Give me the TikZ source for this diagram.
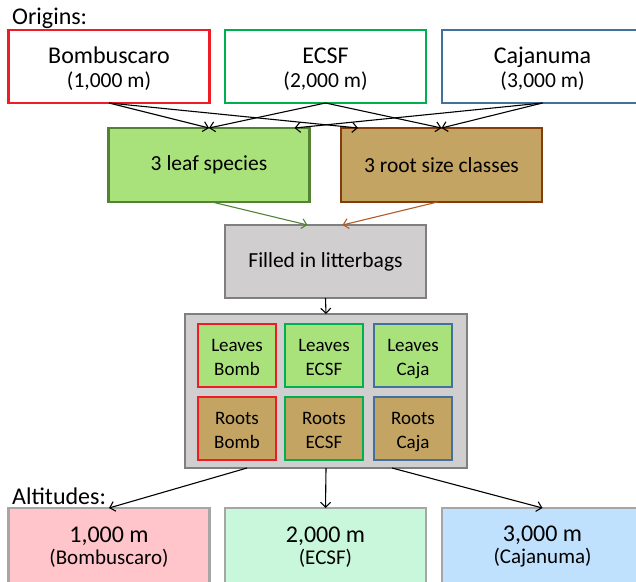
\documentclass[tikz,border=0pt]{standalone}
\usepackage{fontspec}
\setmainfont{Carlito}
\usetikzlibrary{arrows.meta}
\definecolor{cRed}{HTML}{EE1C24}
\definecolor{cGreen}{HTML}{00B050}
\definecolor{cBlue}{HTML}{41719C}
\definecolor{leafFill}{HTML}{A9E17A}
\definecolor{leafLine}{HTML}{548235}
\definecolor{rootFill}{HTML}{C4A462}
\definecolor{rootLine}{HTML}{843C0C}
\definecolor{rootArrow}{HTML}{B05A28}
\definecolor{grayFill}{HTML}{D0CECE}
\definecolor{grayLine}{HTML}{7F7F7F}
\definecolor{altLine}{HTML}{A6A6A6}
\definecolor{altPink}{HTML}{FFC5CB}
\definecolor{altMint}{HTML}{C9F7DC}
\definecolor{altBlue}{HTML}{BFE1FD}
\newcommand{\topstrut}[1]{\rule{0pt}{#1}}
\newcommand{\botstrut}{\rule[-5pt]{0pt}{5pt}}
\begin{document}
\begin{tikzpicture}[x=1pt,y=-1pt,
  box/.style={draw, rectangle, inner sep=0pt, outer sep=0pt, align=center, line width=2.5pt},
  origin/.style={box, fill=white, minimum width=201pt, minimum height=73pt,
    font=\fontsize{24}{24.5}\selectfont},
  mid/.style={box, minimum width=201pt, minimum height=74pt,
    font=\fontsize{21.5}{24}\selectfont},
  inner/.style={box, line width=2.8pt, minimum width=78pt, minimum height=63pt,
    font=\fontsize{19}{23.3}\selectfont},
  alt/.style={box, draw=altLine, line width=2.5pt, minimum width=201pt, minimum height=78pt,
    font=\fontsize{24}{22}\selectfont},
  title/.style={anchor=base west, inner sep=0pt, font=\fontsize{24}{24}\selectfont},
  arr/.style={-{Straight Barb[length=5pt,width=10pt]}, line width=1.1pt, draw=black}
]
\useasboundingbox (0,0) rectangle (636,581);

\node[title] (torig) at (12,24) {Origins:};
\node[origin, draw=cRed]   (bomb) at (109,66.5)   {\topstrut{21pt}Bombuscaro\\{\fontsize{21.5}{24.5}\selectfont (1,000 m)}};
\node[origin, draw=cGreen] (ecsf) at (325.5,66.5) {\topstrut{21pt}ECSF\\{\fontsize{21.5}{24.5}\selectfont (2,000 m)}};
\node[origin, draw=cBlue]  (caja) at (542.5,66.5) {\topstrut{21pt}Cajanuma\\{\fontsize{21.5}{24.5}\selectfont (3,000 m)}};

\node[mid, fill=leafFill, draw=leafLine] (leaf) at (209,165)   {3 leaf species};
\node[mid, fill=rootFill, draw=rootLine] (root) at (441.5,165) {3 root size classes};

\node[mid, fill=grayFill, draw=grayLine, minimum height=73pt] (filled) at (325.5,261.5) {Filled in litterbags};

\node[box, fill=grayFill, draw=grayLine, line width=2.8pt, minimum width=282pt, minimum height=154pt] (cont) at (326,391) {};

\node[inner, fill=leafFill, draw=cRed]   (lb) at (237,355.5) {\topstrut{21pt}Leaves\\Bomb\botstrut};
\node[inner, fill=leafFill, draw=cGreen] (le) at (324,355.5) {\topstrut{21pt}Leaves\\ECSF\botstrut};
\node[inner, fill=leafFill, draw=cBlue]  (lc) at (413,355.5) {\topstrut{21pt}Leaves\\Caja\botstrut};
\node[inner, fill=rootFill, draw=cRed]   (rb) at (237,428.5) {\topstrut{21pt}Roots\\Bomb\botstrut};
\node[inner, fill=rootFill, draw=cGreen] (re) at (324,428.5) {\topstrut{21pt}Roots\\ECSF\botstrut};
\node[inner, fill=rootFill, draw=cBlue]  (rc) at (413,428.5) {\topstrut{21pt}Roots\\Caja\botstrut};

\node[title] (talt) at (12,504) {Altitudes:};
\node[alt, fill=altPink] (a1) at (109,547)   {1,000 m\\{\fontsize{21}{22}\selectfont (Bombuscaro)}};
\node[alt, fill=altMint] (a2) at (325.5,547) {2,000 m\\{\fontsize{21}{22}\selectfont (ECSF)}};
\node[alt, fill=altBlue] (a3) at (542.5,547) {3,000 m\\{\fontsize{21}{22}\selectfont (Cajanuma)}};

% origins -> material
\draw[arr] (bomb.south) -- (leaf.north);
\draw[arr] (bomb.south) -- ([xshift=17pt]root.north west);
\draw[arr] (ecsf.south) -- (leaf.north);
\draw[arr] (ecsf.south) -- (root.north);
\draw[arr] (caja.south) -- ([xshift=-15pt]leaf.north east);
\draw[arr] (caja.south) -- (root.north);

% material -> litterbags
\draw[arr, draw=leafLine] ([xshift=3pt]leaf.south) -- ([xshift=-18pt]filled.north);
\draw[arr, draw=rootArrow] ([xshift=-4pt]root.south) -- ([xshift=17pt]filled.north);

\draw[arr] (filled.south) -- (cont.north);

% container -> altitudes
\draw[arr] ([xshift=-79pt]cont.south) -- (a1.north);
\draw[arr] (cont.south) -- (a2.north);
\draw[arr] ([xshift=66pt]cont.south) -- (a3.north);
\end{tikzpicture}
\end{document}
